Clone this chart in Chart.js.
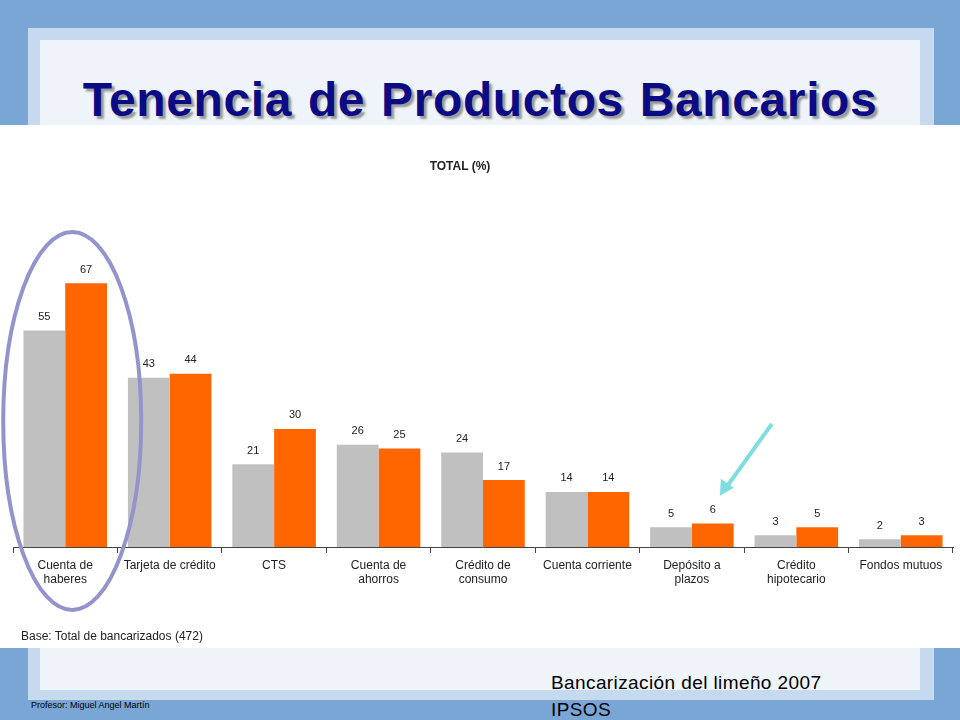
<!DOCTYPE html>
<html><head><meta charset="utf-8">
<script src="https://cdn.jsdelivr.net/npm/chart.js@4/dist/chart.umd.min.js"></script>
<style>
body{margin:0;width:960px;height:720px;overflow:hidden;background:#7AA6D6;font-family:"Liberation Sans",Arial,sans-serif;position:relative}
#p1{position:absolute;left:28px;top:28px;width:906px;height:672px;background:#C6DAEF}
#p2{position:absolute;left:40px;top:40px;width:880px;height:650px;background:#EEF4F9}
#title{position:absolute;left:0;top:72px;width:960px;text-align:center;font-weight:bold;font-size:48px;letter-spacing:0.6px;word-spacing:2px;color:#0B0B85;text-shadow:3px 3px 2px #9a9a9a}
#white{position:absolute;left:0;top:125px;width:960px;height:523px;background:#fff}
#cw{position:absolute;left:0;top:125px;width:960px;height:523px}
#tot{position:absolute;left:0;top:159px;width:920px;text-align:center;font-weight:bold;font-size:12px;color:#222}
#base{position:absolute;left:21px;top:629px;font-size:12px;color:#222}
#src{position:absolute;left:551px;top:669px;width:330px;font-size:19px;letter-spacing:0.4px;color:#000;line-height:27px}
#prof{position:absolute;left:31px;top:700px;font-size:9px;color:#000}
</style></head><body>
<div id="p1"></div><div id="p2"></div>
<div id="title">Tenencia de Productos Bancarios</div>
<div id="white"></div>
<div id="cw"><canvas id="c" width="960" height="523"></canvas></div>
<div id="tot">TOTAL (%)</div>
<div id="base">Base: Total de bancarizados (472)</div>
<div id="src">Bancarización del limeño 2007 IPSOS</div>
<div id="prof">Profesor: Miguel Angel Martín</div>
<script>
const categories=[["Cuenta de","haberes"],"Tarjeta de crédito","CTS",["Cuenta de","ahorros"],["Crédito de","consumo"],"Cuenta corriente",["Depósito a","plazos"],["Crédito","hipotecario"],"Fondos mutuos"];
const seriesGray=[55,43,21,26,24,14,5,3,2];
const seriesOrange=[67,44,30,25,17,14,6,5,3];
const deco={id:'deco',afterDatasetsDraw(ch){
  const c=ch.ctx,x=ch.scales.x,y=ch.scales.y;
  c.save();c.font='11px "Liberation Sans",Arial';c.fillStyle='#222';c.textAlign='center';c.textBaseline='bottom';
  ch.data.datasets.forEach((d,i)=>ch.getDatasetMeta(i).data.forEach((b,j)=>c.fillText(d.data[j],b.x,b.y-8)));
  const cx=x.getPixelForValue(0)+7, cy=y.getPixelForValue(32);
  c.strokeStyle='#9494CC';c.lineWidth=4;c.beginPath();c.ellipse(cx,cy,69,189,0,0,Math.PI*2);c.stroke();
  const ax=x.getPixelForValue(6)+28, ay=y.getPixelForValue(13);
  c.strokeStyle='#7FDCE0';c.fillStyle='#7FDCE0';c.lineWidth=4;c.beginPath();c.moveTo(ax+52,ay-72);c.lineTo(ax+6,ay-8);c.stroke();
  c.beginPath();c.moveTo(ax,ay);c.lineTo(ax+1,ay-17);c.lineTo(ax+14,ay-8);c.closePath();c.fill();
  c.restore();}};
new Chart(document.getElementById('c'),{type:'bar',
 data:{labels:categories,datasets:[
  {data:seriesGray,backgroundColor:'#C0C0C0'},
  {data:seriesOrange,backgroundColor:'#FF6600'}]},
 options:{responsive:false,animation:false,events:[],
  layout:{padding:{top:107,left:13,right:7,bottom:0}},
  plugins:{legend:{display:false},tooltip:{enabled:false}},
  datasets:{bar:{categoryPercentage:0.8,barPercentage:1}},
  scales:{
   y:{display:false,min:0,max:80},
   x:{afterFit:s=>{s.height=101},grid:{display:true,drawOnChartArea:false,offset:true,tickLength:6,color:'#444'},
      border:{display:true,color:'#444',width:1},
      ticks:{color:'#222',font:{size:12,family:'"Liberation Sans",Arial'},padding:5,maxRotation:0,autoSkip:false}}}},
 plugins:[deco]});
</script></body></html>
